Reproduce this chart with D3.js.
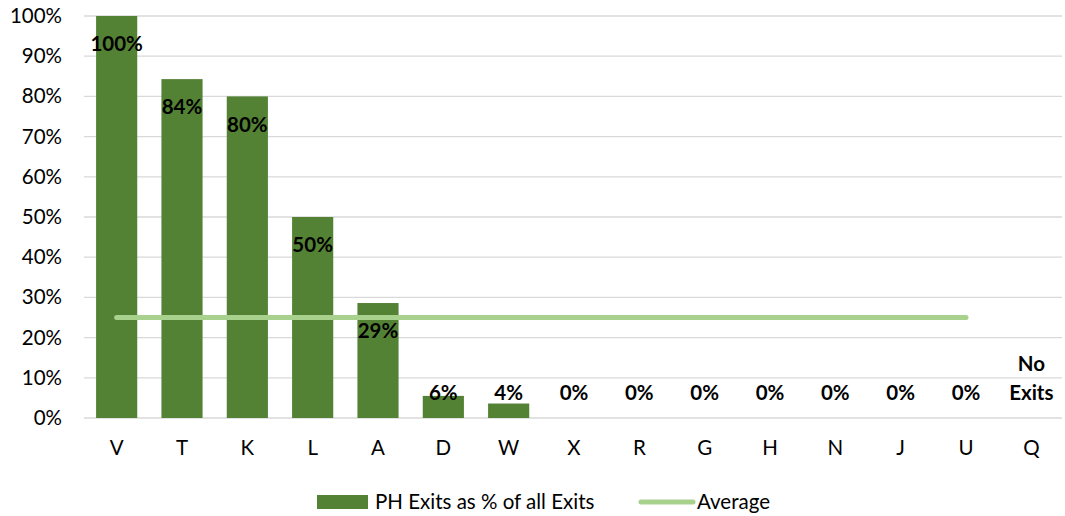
<!DOCTYPE html>
<html>
<head>
<meta charset="utf-8">
<script src="https://cdn.jsdelivr.net/npm/d3@7"></script>
<style>
  html, body { margin: 0; padding: 0; background: #fff; }
  svg { display: block; font-family: Lato, "Open Sans", "Liberation Sans", sans-serif; }
</style>
</head>
<body>
<svg id="chart" width="1065" height="516"></svg>
<script>
// Share of exits that were PH exits, by site
const categories = ["V", "T", "K", "L", "A", "D", "W", "X", "R", "G", "H", "N", "J", "U", "Q"];
const phShare = [1.00, 0.843, 0.80, 0.50, 0.286, 0.055, 0.036, 0, 0, 0, 0, 0, 0, 0, null];
const averageShare = 0.25;
const yTicks = [0, 0.1, 0.2, 0.3, 0.4, 0.5, 0.6, 0.7, 0.8, 0.9, 1.0];
const noDataLabel = ["No", "Exits"];
const legendLabels = ["PH Exits as % of all Exits", "Average"];

const svg = d3.select("#chart");
const margin = { left: 84, right: 1, top: 16, bottom: 98 };
const W = 1065, H = 516;
const fontSize = 20.5;

const x = d3.scaleBand()
  .domain(categories)
  .range([margin.left, W - margin.right])
  .paddingInner(0.37)
  .paddingOuter(0.185);

const y = d3.scaleLinear()
  .domain([0, 1])
  .range([H - margin.bottom, margin.top]);

const barColor = "#548235";
const avgColor = "#a9d18e";
const fmt = d3.format(".0%");

// gridlines
svg.append("g")
  .selectAll("line")
  .data(yTicks)
  .join("line")
  .attr("x1", margin.left)
  .attr("x2", W - 3)
  .attr("y1", d => y(d))
  .attr("y2", d => y(d))
  .attr("stroke", "#d9d9d9")
  .attr("stroke-width", 1.3);

// y axis labels
const yAxis = d3.axisLeft(y).tickValues(yTicks).tickFormat(fmt).tickSize(0).tickPadding(22);
svg.append("g")
  .attr("transform", `translate(${margin.left},0)`)
  .call(yAxis)
  .call(g => g.select(".domain").remove())
  .call(g => g.selectAll("text")
    .attr("font-size", fontSize)
    .attr("fill", "#000")
    .attr("font-family", "Lato, 'Open Sans', sans-serif"));

// x axis labels
const xAxis = d3.axisBottom(x).tickSize(0).tickPadding(22);
svg.append("g")
  .attr("transform", `translate(0,${y(0)})`)
  .call(xAxis)
  .call(g => g.select(".domain").remove())
  .call(g => g.selectAll("text")
    .attr("font-size", fontSize)
    .attr("fill", "#000")
    .attr("font-family", "Lato, 'Open Sans', sans-serif"));

const barData = categories.map((c, i) => ({ c, v: phShare[i] }));

// bars
svg.append("g")
  .selectAll("rect")
  .data(barData.filter(d => d.v !== null && d.v > 0))
  .join("rect")
  .attr("x", d => x(d.c))
  .attr("width", x.bandwidth())
  .attr("y", d => y(d.v))
  .attr("height", d => y(0) - y(d.v))
  .attr("fill", barColor);

// average line
const avgLine = d3.line().x(d => x(d) + x.bandwidth() / 2).y(() => y(averageShare));
svg.append("path")
  .datum(categories.slice(0, categories.length - 1))
  .attr("d", avgLine)
  .attr("fill", "none")
  .attr("stroke", avgColor)
  .attr("stroke-width", 5)
  .attr("stroke-linecap", "round");

// value labels
const labels = svg.append("g")
  .attr("font-size", fontSize)
  .attr("font-weight", "bold")
  .attr("fill", "#000")
  .attr("text-anchor", "middle");

barData.forEach(d => {
  const cx = x(d.c) + x.bandwidth() / 2;
  if (d.v === null) {
    labels.append("text")
      .attr("x", cx)
      .attr("y", y(0) - 54)
      .attr("dy", "0.35em")
      .text(noDataLabel[0]);
    labels.append("text")
      .attr("x", cx)
      .attr("y", y(0) - 25)
      .attr("dy", "0.35em")
      .text(noDataLabel[1]);
  } else {
    const inside = d.v >= 0.15;
    labels.append("text")
      .attr("x", cx)
      .attr("y", inside ? y(d.v) + 28 : y(0) - 25)
      .attr("dy", "0.35em")
      .text(fmt(d.v));
  }
});

// legend
const legend = svg.append("g").attr("font-size", fontSize).attr("fill", "#000");
legend.append("rect")
  .attr("x", 317).attr("y", 495).attr("width", 51).attr("height", 14)
  .attr("fill", barColor);
legend.append("text")
  .attr("x", 375).attr("y", 502).attr("dy", "0.35em")
  .text(legendLabels[0]);
legend.append("line")
  .attr("x1", 641).attr("x2", 693).attr("y1", 502).attr("y2", 502)
  .attr("stroke", avgColor).attr("stroke-width", 5).attr("stroke-linecap", "round");
legend.append("text")
  .attr("x", 697).attr("y", 502).attr("dy", "0.35em")
  .text(legendLabels[1]);
</script>
</body>
</html>
